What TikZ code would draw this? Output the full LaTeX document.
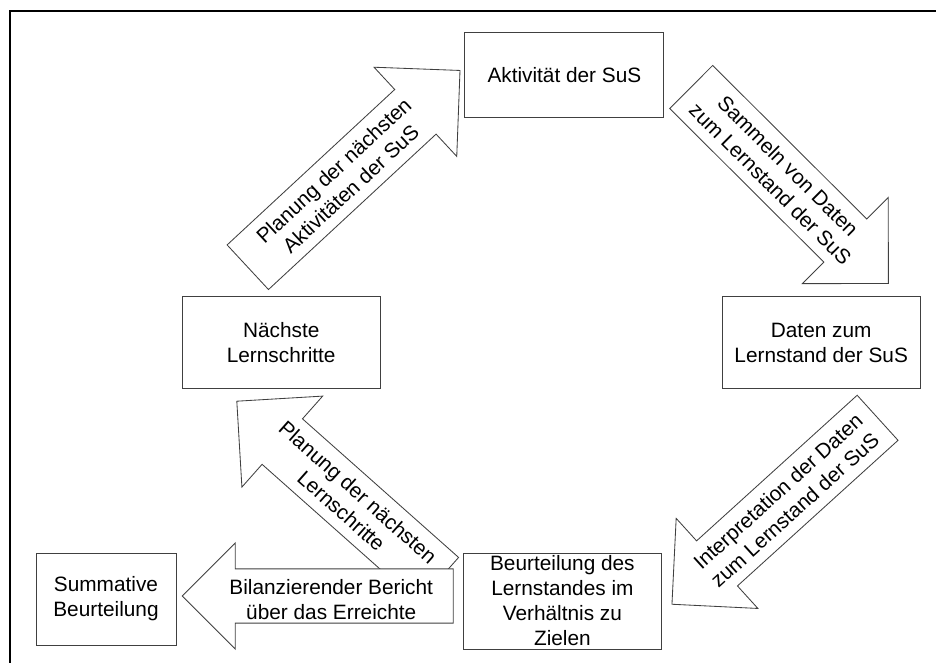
\documentclass[tikz,border=0pt]{standalone}
\usepackage{fontspec}
\setmainfont{Liberation Sans}
\usetikzlibrary{calc}
\usetikzlibrary{shapes.arrows}

\tikzset{
  box/.style={draw=black!75, fill=white, line width=0.7pt, align=center, inner sep=0,
    minimum width=4.95cm, minimum height=2.29cm, font=\fontsize{14.8}{17.8}\selectfont},
  blockpfeil/.style={single arrow, draw=black!75, fill=white, line width=0.6pt,
    inner xsep=0, inner ysep=0.75cm, outer sep=0, single arrow head extend=0.76cm, anchor=tail},
  pfeiltext/.style={align=center, inner sep=0, font=\fontsize{14.8}{17.8}\selectfont}
}

\begin{document}
\begin{tikzpicture}
\useasboundingbox (0,0) rectangle (23.4,16.575);
\draw[black, line width=1.2pt] (0.25,0) |- (23.4,16.3);

% Kaesten
\node[box, minimum width=4.975cm, minimum height=2.125cm] (akt) at (14.11,14.69) {Aktivität der SuS};
\node[box] (daten) at (20.53,8.01) {Daten zum\\Lernstand der SuS};
\node[box] (naechste) at (7.03,8.01) {Nächste\\Lernschritte};
\node[box, minimum height=2.4cm] (beurt) at (14.06,1.55) {Beurteilung des\\Lernstandes im\\Verhältnis zu\\Zielen};
\node[box, minimum width=3.5cm, minimum height=2.3cm] (summ) at (2.65,1.6) {Summative\\Beurteilung};

% Pfeile
\node[blockpfeil, rotate=42.84, minimum height=7.235cm] (pfeilA) at (6.195,9.894) {};
\node[pfeiltext, rotate=42.84] (txtA) at ($(pfeilA.tail)!0.445!(pfeilA.tip)$) {Planung der nächsten\\Aktivitäten der SuS};

\node[blockpfeil, rotate=-44.9, minimum height=6.96cm] (pfeilS) at (17.28,14.4) {};
\node[pfeiltext, rotate=-44.9] (txtS) at ($(pfeilS.tail)!0.447!(pfeilS.tip)$) {Sammeln von Daten\\zum Lernstand der SuS};

\node[blockpfeil, rotate=222.2, minimum height=6.94cm] (pfeilI) at (21.94,6.13) {};
\node[pfeiltext, rotate=42.2] (txtI) at ($(pfeilI.tail)!0.444!(pfeilI.tip)$) {Interpretation der Daten\\zum Lernstand der SuS};

\node[blockpfeil, rotate=138.4, minimum height=6.74cm] (pfeilL) at (10.96,2.07) {};
\node[pfeiltext, rotate=-41.6] (txtL) at ($(pfeilL.tail)!0.44!(pfeilL.tip)$) {Planung der nächsten\\Lernschritte};

\node[blockpfeil, rotate=180, minimum height=6.775cm, inner ysep=0.667cm, single arrow head extend=0.65cm] (pfeilB) at (11.33,1.675) {};
\node[pfeiltext, yshift=-0.1cm] (txtB) at ($(pfeilB.tail)!0.45!(pfeilB.tip)$) {Bilanzierender Bericht\\über das Erreichte};
\end{tikzpicture}
\end{document}
